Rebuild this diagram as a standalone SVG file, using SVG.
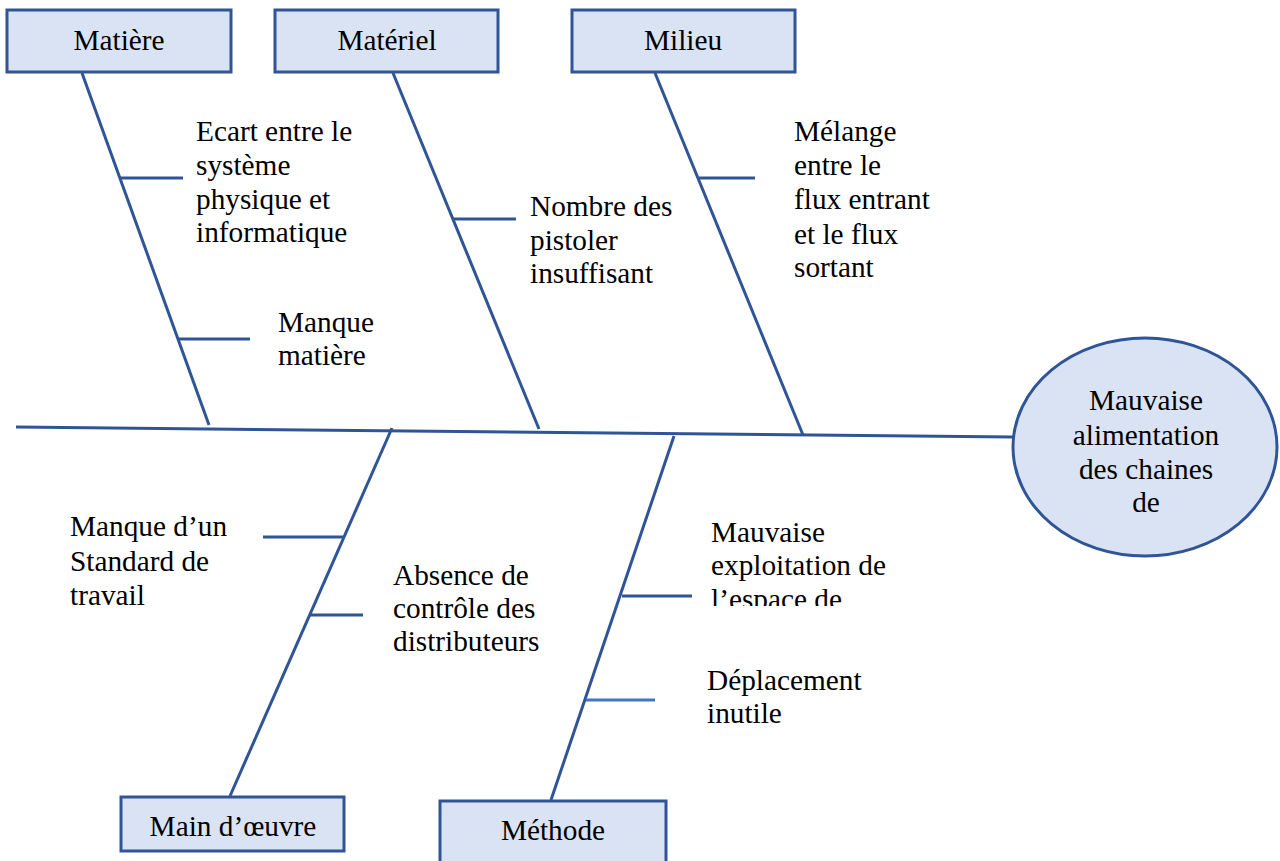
<svg xmlns="http://www.w3.org/2000/svg" width="1280" height="861" viewBox="0 0 1280 861">
<style>
.box{fill:#DAE3F3;stroke:#2F5597;stroke-width:3}
.ln{stroke:#2F5597;stroke-width:3;fill:none}
.ln2{stroke:#4472C4;stroke-width:3;fill:none}
.c{text-anchor:middle}
</style>
<defs>
<clipPath id="clipEsp"><rect x="700" y="500" width="220" height="106"/></clipPath>
</defs>
<rect width="1280" height="861" fill="#fff"/>
<g id="connectors">
<line class="ln" x1="16" y1="427" x2="1013" y2="437"/>
<line class="ln" x1="82" y1="73" x2="209" y2="425"/>
<line class="ln" x1="120" y1="178" x2="183" y2="178"/>
<line class="ln" x1="178" y1="339" x2="250" y2="339"/>
<line class="ln" x1="393" y1="73" x2="539" y2="429"/>
<line class="ln" x1="452" y1="219" x2="516" y2="219"/>
<line class="ln" x1="655" y1="73" x2="803" y2="435"/>
<line class="ln" x1="699" y1="178" x2="755" y2="178"/>
<line class="ln" x1="392" y1="428" x2="230" y2="796"/>
<line class="ln" x1="263" y1="537" x2="343" y2="537"/>
<line class="ln" x1="309" y1="615" x2="363" y2="615"/>
<line class="ln" x1="674" y1="436" x2="551" y2="800"/>
<line class="ln" x1="622" y1="596" x2="692" y2="596"/>
<line class="ln2" x1="586" y1="700" x2="655" y2="700"/>
</g>
<g font-family="'Liberation Serif', 'Times New Roman', serif" font-size="29.3" fill="#000">
<g id="matiere">
<rect class="box" x="7" y="10" width="224" height="62"/>
<text class="c" x="119" y="50">Matière</text>
</g>
<g id="materiel">
<rect class="box" x="275" y="10" width="223" height="62"/>
<text class="c" x="387" y="50">Matériel</text>
</g>
<g id="milieu">
<rect class="box" x="572" y="10" width="223" height="62"/>
<text class="c" x="683" y="50">Milieu</text>
</g>
<g id="main-oeuvre">
<rect class="box" x="121" y="797" width="223" height="54"/>
<text class="c" x="233" y="836">Main d’œuvre</text>
</g>
<g id="methode">
<rect class="box" x="440" y="801" width="226" height="66"/>
<text class="c" x="553" y="840">Méthode</text>
</g>
<g id="effet">
<ellipse cx="1145" cy="447" rx="132" ry="109" fill="#DAE3F3" stroke="#2F5597" stroke-width="3"/>
<text class="c" x="1146" y="410">Mauvaise</text>
<text class="c" x="1146" y="445">alimentation</text>
<text class="c" x="1146" y="479">des chaines</text>
<text class="c" x="1146" y="512">de</text>
</g>
<g id="cause-ecart">
<text x="196" y="141">Ecart entre le</text>
<text x="196" y="175">système</text>
<text x="196" y="209">physique et</text>
<text x="196" y="242">informatique</text>
</g>
<g id="cause-manque-matiere">
<text x="278" y="332">Manque</text>
<text x="278" y="365">matière</text>
</g>
<g id="cause-pistolets">
<text x="530" y="216">Nombre des</text>
<text x="530" y="250">pistoler</text>
<text x="530" y="283">insuffisant</text>
</g>
<g id="cause-melange">
<text x="794" y="141">Mélange</text>
<text x="794" y="175">entre le</text>
<text x="794" y="209">flux entrant</text>
<text x="794" y="244">et le flux</text>
<text x="794" y="277">sortant</text>
</g>
<g id="cause-standard">
<text x="70" y="536">Manque d’un</text>
<text x="70" y="571">Standard de</text>
<text x="70" y="605">travail</text>
</g>
<g id="cause-controle">
<text x="393" y="585">Absence de</text>
<text x="393" y="618">contrôle des</text>
<text x="393" y="651">distributeurs</text>
</g>
<g id="cause-espace">
<text x="711" y="542">Mauvaise</text>
<text x="711" y="575">exploitation de</text>
<text x="711" y="609" clip-path="url(#clipEsp)">l’espace de</text>
</g>
<g id="cause-deplacement">
<text x="707" y="690">Déplacement</text>
<text x="707" y="723">inutile</text>
</g>
</g>
</svg>
